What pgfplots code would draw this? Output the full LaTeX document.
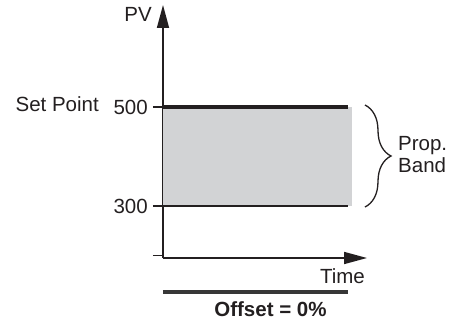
\documentclass[border=0pt]{standalone}
\usepackage{pgfplots}
\pgfplotsset{compat=1.18}
\usepackage{fontspec}
\setmainfont{Liberation Sans}
\usetikzlibrary{arrows.meta,decorations.pathreplacing}
\definecolor{bandgray}{RGB}{210,211,213}
\definecolor{ink}{RGB}{35,31,32}
\definecolor{offs}{RGB}{55,55,55}
\newcommand{\fs}{\fontsize{20.5bp}{23bp}\selectfont}
\begin{document}
\begin{tikzpicture}
\begin{axis}[name=ax, scale only axis, width=204bp, height=253bp,
 xmin=0, xmax=204, ymin=195, ymax=706,
 axis lines=left,
 axis line style={line width=1.6bp, color=ink, -{Triangle[width=12bp,length=23bp]}},
 xtick=\empty, ytick={200,300,500}, yticklabels={,300,500},
 tick align=outside, major tick length=10bp,
 tick style={line width=1.2bp, color=ink},
 yticklabel style={font=\fs, color=ink, inner sep=0pt, xshift=-5bp},
 clip=false]
\addplot[draw=none, fill=bandgray] coordinates {(0,300)(189,300)(189,500)(0,500)} -- cycle;
\addplot[ink, line width=3.5bp] coordinates {(0,500)(185,500)};
\addplot[ink, line width=1.8bp] coordinates {(0,300)(185,300)};
\addplot[offs, line width=4bp] coordinates {(0,126)(185,126)};
\draw[ink, line width=1.3bp, decorate, decoration={brace, amplitude=26bp}] (axis cs:202,504) -- (axis cs:202,298);
\node[anchor=base east, inner sep=0pt, font=\fs, text=ink] at (axis cs:-11,672) {PV};
\node[anchor=base east, inner sep=0pt, font=\fs, text=ink] at (axis cs:-64,490) {Set Point};
\node[anchor=base west, inner sep=0pt, font=\fs, text=ink] at (axis cs:235,413) {Prop.};
\node[anchor=base west, inner sep=0pt, font=\fs, text=ink] at (axis cs:235,367) {Band};
\node[anchor=base east, inner sep=0pt, font=\fs, text=ink] at (axis cs:202,144) {Time};
\node[anchor=base, inner sep=0pt, font=\fs\bfseries, text=ink] at (axis cs:107.5,76) {Offset = 0\%};
\end{axis}
\path ([xshift=-163bp,yshift=-65bp]ax.south west) rectangle ++(465bp,323bp);
\end{tikzpicture}
\end{document}
